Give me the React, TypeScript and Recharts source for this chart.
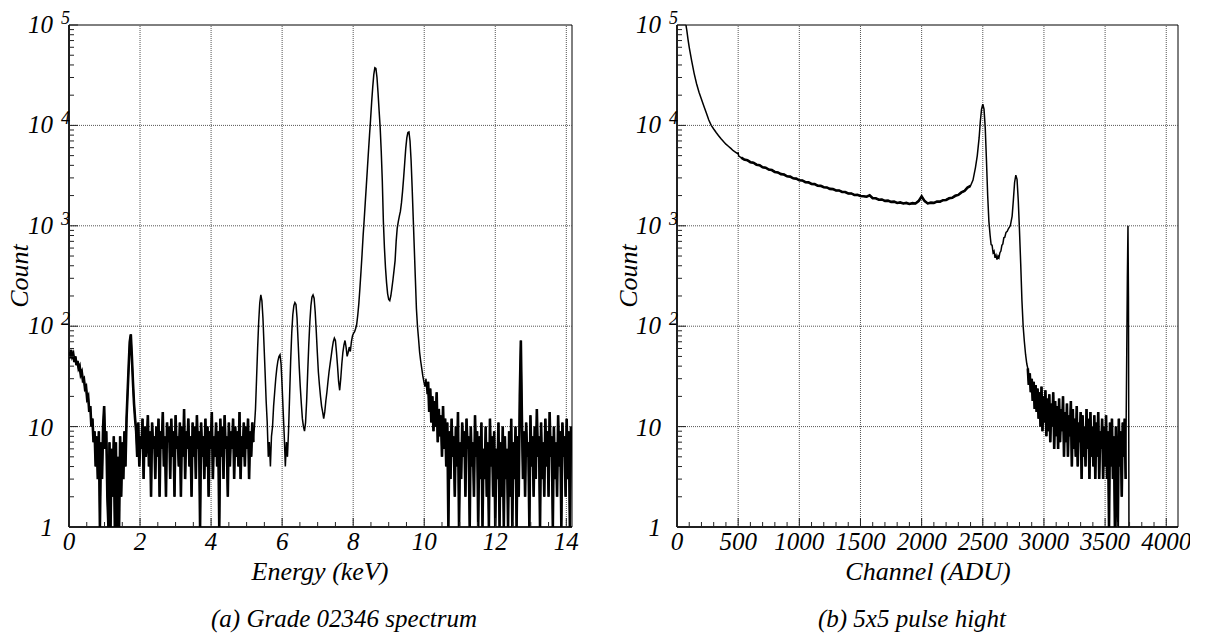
import React from 'react';
import { LineChart, Line, XAxis, YAxis, ReferenceLine, ReferenceArea } from 'recharts';

// ---------- (a) Grade 02346 spectrum : histogram bins of 0.03 keV ----------
const leftBinWidth = 0.03;
const leftTailStart = 0.0;
const leftTailCounts = [
  55, 48, 58, 50, 53, 44, 50, 41, 45, 38,
  40, 33, 35, 29, 30, 24, 25, 19, 20, 14,
  16, 10, 12, 7, 9, 4, 8, 3, 9, 1,
  7, 3, 10, 16, 6, 9, 2, 1, 7, 1,
  6, 2, 8, 1, 7, 1, 5, 1, 8, 2,
  7, 3, 9, 4, 12, 22, 40, 70, 83, 50,
  28, 17, 12,
];
const leftLowStart = 1.89;
const leftLowCounts = [
  9, 5, 11, 4, 8, 6, 12, 3, 10, 5,
  7, 13, 4, 9, 2, 11, 6, 8, 3, 10,
  5, 12, 2, 9, 6, 14, 4, 8, 2, 11,
  7, 10, 3, 12, 5, 9, 2, 13, 6, 8,
  4, 11, 2, 10, 5, 15, 3, 9, 6, 12,
  4, 8, 2, 11, 5, 10, 3, 13, 6, 9,
  1, 11, 5, 8, 3, 12, 4, 10, 2, 9,
  6, 14, 3, 8, 5, 11, 4, 9, 1, 12,
  5, 10, 3, 13, 6, 8, 2, 11, 4, 9,
  6, 12, 3, 10, 5, 9, 4, 14, 3, 8,
  5, 11, 4, 10, 6, 12, 3, 9, 5, 11, 7,
];
const leftLinesStart = 5.22;
const leftLinesCounts = [
  10, 15, 30, 60, 110, 170, 205, 180, 120, 65,
  35, 18, 11, 5, 7, 4, 8, 10, 16, 22,
  30, 38, 45, 50, 52, 42, 25, 14, 8, 4,
  7, 5, 9, 20, 45, 85, 130, 160, 172, 165,
  120, 70, 40, 25, 17, 12, 10, 9, 11, 18,
  35, 65, 110, 160, 195, 205, 190, 140, 90, 55,
  35, 26, 20, 16, 14, 12, 14, 18, 22, 28,
  35, 42, 50, 60, 70, 76, 72, 55, 40, 28,
  23, 30, 42, 55, 65, 72, 62, 50, 55, 62,
  56, 70, 80,
];
const leftCuStart = 8.01;
const leftCuCounts = [
  85, 88, 95, 105, 130, 170, 240, 350, 520, 800,
  1150, 1700, 2500, 3700, 5500, 8000, 11500, 17000, 24000, 32000,
  37500, 37000, 30000, 21000, 14000, 9500, 5500, 2800, 1100, 600,
  380, 270, 210, 185, 180, 200, 240, 290, 360, 450,
  700, 950, 1100, 1250, 1400, 1700, 2200, 3000, 4200, 5900,
  7500, 8500, 8600, 7000, 4500, 2400, 1200, 600, 300, 150,
  100, 75, 55, 45, 38, 32, 28, 25, 30, 21,
];
const leftHighStart = 10.11;
const leftHighCounts = [
  28, 14, 24, 11, 20, 9, 18, 10, 22, 7,
  15, 8, 13, 5, 16, 6, 12, 4, 11, 1,
  9, 3, 12, 5, 8, 2, 10, 4, 14, 1,
  7, 3, 11, 5, 9, 2, 12, 6, 8, 1,
  10, 4, 7, 2, 13, 5, 9, 1, 8, 3,
  11, 1, 6, 3, 10, 2, 7, 1, 12, 4,
  8, 2, 9, 1, 6, 3, 11, 1, 7, 2,
  10, 1, 8, 3, 6, 1, 9, 2, 12, 1,
  7, 3, 10, 1, 8, 2, 20, 72, 12, 3,
  9, 2, 11, 5, 7, 1, 13, 4, 8, 2,
  10, 3, 15, 5, 8, 1, 11, 3, 7, 2,
  12, 4, 9, 2, 14, 5, 8, 1, 10, 3,
  7, 2, 13, 4, 9, 1, 11, 5, 8, 2,
  12, 3, 9, 1, 10,
];
const energyMax = 14.16;
const energyTicks = [0, 0.5, 1, 1.5, 2, 2.5, 3, 3.5, 4, 4.5, 5, 5.5, 6, 6.5, 7, 7.5, 8, 8.5, 9, 9.5, 10, 10.5, 11, 11.5, 12, 12.5, 13, 13.5, 14];
const energyLabels = [0, 2, 4, 6, 8, 10, 12, 14];

// ---------- (b) 5x5 pulse hight ----------
const rightDecayAdu = [50, 60, 70, 80, 90, 100, 120, 140, 160, 180, 200, 220, 240, 260, 280, 300, 320, 340, 360, 380, 400, 420, 440, 460, 480, 495, 500, 505];
const rightDecayCounts = [190000, 140000, 105000, 89000, 72000, 60000, 44000, 33000, 26000, 21400, 18200, 15500, 13300, 11300, 10000, 9200, 8500, 7900, 7350, 6900, 6500, 6200, 5900, 5600, 5400, 5250, 5300, 4950];
const rightPlateauStart = 525;
const rightPlateauStep = 25;
const rightPlateauCounts = [
  4780, 4560, 4500, 4300, 4250, 4060, 4010, 3830, 3790, 3630,
  3590, 3440, 3400, 3270, 3240, 3110, 3090, 2970, 2950, 2840,
  2830, 2720, 2710, 2610, 2600, 2510, 2500, 2420, 2410, 2330,
  2320, 2250, 2250, 2170, 2170, 2100, 2100, 2030, 2040, 1980,
  1970, 1950, 2010, 1880, 1880, 1820, 1830, 1770, 1780, 1730,
  1740, 1690, 1710, 1670, 1690, 1650, 1680, 1670, 1760, 1960,
  1760, 1670, 1700, 1690, 1740, 1740, 1800, 1810, 1880, 1900,
  1990, 2030, 2150, 2220, 2400, 2500,
];
const rightPeakAdu = [2420, 2440, 2455, 2470, 2480, 2490, 2500, 2510, 2520, 2530, 2540, 2550, 2560, 2568, 2576, 2584, 2592, 2600, 2608, 2616, 2624, 2632, 2640, 2648, 2656, 2664, 2672, 2680, 2690, 2700, 2710, 2725, 2740, 2750, 2760, 2770, 2780, 2790, 2800, 2810, 2820, 2830, 2840, 2850, 2860];
const rightPeakCounts = [2850, 3800, 5000, 7500, 11000, 14500, 16300, 14500, 9500, 4500, 2000, 1100, 800, 650, 640, 540, 560, 480, 510, 460, 500, 480, 540, 560, 640, 660, 760, 770, 860, 880, 940, 1000, 1250, 1800, 2700, 3200, 2900, 1800, 900, 420, 180, 100, 70, 52, 42];
const rightNoiseStart = 2868;
const rightNoiseStep = 8;
const rightNoiseCounts = [
  38, 26, 34, 22, 30, 18, 28, 15, 26, 14,
  24, 12, 22, 10, 25, 9, 20, 11, 23, 8,
  19, 9, 21, 7, 17, 10, 22, 6, 18, 8,
  16, 6, 19, 7, 15, 9, 20, 5, 14, 7,
  17, 5, 13, 8, 18, 4, 15, 6, 12, 5,
  16, 4, 11, 7, 14, 3, 13, 5, 10, 4,
  15, 6, 12, 3, 14, 5, 10, 4, 13, 3,
  11, 5, 14, 3, 9, 6, 12, 3, 10, 4,
  13, 3, 9, 1, 11, 4, 12, 3, 8, 1,
  10, 3, 1, 12, 4, 9, 2, 11, 5, 12, 3,
];
const rightSpikeAdu = [3676, 3682, 3687, 3691, 3695];
const rightSpikeCounts = [40, 300, 1000, 200, 1];
const adcMax = 4096;
const adcTicks = [0, 100, 200, 300, 400, 500, 600, 700, 800, 900, 1000, 1100, 1200, 1300, 1400, 1500, 1600, 1700, 1800, 1900, 2000, 2100, 2200, 2300, 2400, 2500, 2600, 2700, 2800, 2900, 3000, 3100, 3200, 3300, 3400, 3500, 3600, 3700, 3800, 3900, 4000];
const adcLabels = [0, 500, 1000, 1500, 2000, 2500, 3000, 3500, 4000];

// ---------- shared count axis ----------
const countDecades = [1, 10, 100, 1000, 10000, 100000];
const countTicks = [
  1, 2, 3, 4, 5, 6, 7, 8, 9,
  10, 20, 30, 40, 50, 60, 70, 80, 90,
  100, 200, 300, 400, 500, 600, 700, 800, 900,
  1000, 2000, 3000, 4000, 5000, 6000, 7000, 8000, 9000,
  10000, 20000, 30000, 40000, 50000, 60000, 70000, 80000, 90000,
  100000,
];

type Pt = { x: number; c: number; n?: number };
// noisy stretches are also copied into "n" so they can be stroked a bit heavier (dense histogram look)
const bins = (start: number, step: number, counts: number[], noisy = false): Pt[] =>
  counts.map((c, i) => {
    const x = Math.round((start + i * step) * 1000) / 1000;
    return noisy ? { x, c, n: c } : { x, c };
  });
const pairs = (xs: number[], cs: number[]): Pt[] => xs.map((x, i) => ({ x, c: cs[i] }));

const leftData: Pt[] = [
  ...bins(leftTailStart, leftBinWidth, leftTailCounts, true),
  ...bins(leftLowStart, leftBinWidth, leftLowCounts, true),
  ...bins(leftLinesStart, leftBinWidth, leftLinesCounts),
  ...bins(leftCuStart, leftBinWidth, leftCuCounts),
  ...bins(leftHighStart, leftBinWidth, leftHighCounts, true),
];

const rightData: Pt[] = [
  ...pairs(rightDecayAdu, rightDecayCounts),
  ...bins(rightPlateauStart, rightPlateauStep, rightPlateauCounts, true),
  ...pairs(rightPeakAdu, rightPeakCounts),
  ...bins(rightNoiseStart, rightNoiseStep, rightNoiseCounts, true),
  ...pairs(rightSpikeAdu, rightSpikeCounts),
];

const FAMILY = 'Liberation Serif';
const font = (size: number) => ({ fontFamily: FAMILY, fontStyle: 'italic' as const, fontSize: size });

function YTick(props: any) {
  const { x, y, payload } = props;
  const v = payload.value as number;
  const lg = Math.log10(v);
  const exp = Math.round(lg);
  const major = Math.abs(lg - exp) < 1e-6;
  return (
    <g>
      <line x1={x} x2={x + (major ? 9 : 5)} y1={y} y2={y} stroke="#222" strokeWidth={1} />
      {major && exp <= 1 && (
        <text x={x - 16} y={y + 9} textAnchor="end" fill="#000" style={font(25)}>
          {String(v)}
        </text>
      )}
      {major && exp > 1 && (
        <g>
          <text x={x - 16} y={y + 8} textAnchor="end" fill="#000" style={font(25)}>10</text>
          <text x={x - 8} y={y - 1} textAnchor="start" fill="#000" style={font(18)}>{String(exp)}</text>
        </g>
      )}
    </g>
  );
}

function makeXTick(labels: number[]) {
  return function XTick(props: any) {
    const { x, y, payload } = props;
    const v = payload.value as number;
    const major = labels.includes(v);
    return (
      <g>
        <line x1={x} x2={x} y1={y} y2={y - (major ? 9 : 5)} stroke="#222" strokeWidth={1} />
        {major && (
          <text x={x} y={y + 23} textAnchor="middle" fill="#000" style={font(25)}>
            {String(v)}
          </text>
        )}
      </g>
    );
  };
}

const gridStyle = { stroke: '#555', strokeDasharray: '1 1', strokeWidth: 1 };

function Panel(props: {
  data: Pt[];
  xMax: number;
  xTicks: number[];
  xLabels: number[];
  width: number;
  yAxisWidth: number;
  rightMargin: number;
}) {
  const { data, xMax, xTicks, xLabels, width, yAxisWidth, rightMargin } = props;
  const XT = makeXTick(xLabels);
  return (
    <LineChart width={width} height={635} data={data} margin={{ top: 25, right: rightMargin, bottom: 0, left: 0 }}>
      <XAxis
        dataKey="x"
        type="number"
        domain={[0, xMax]}
        allowDataOverflow
        ticks={xTicks}
        interval={0}
        tickSize={0}
        tickMargin={0}
        tickLine={false}
        axisLine={{ stroke: '#000', strokeWidth: 1.5 }}
        tick={<XT />}
        height={108}
      />
      <YAxis
        type="number"
        scale="log"
        domain={[1, 100000]}
        allowDataOverflow
        ticks={countTicks}
        interval={0}
        tickSize={0}
        tickMargin={0}
        tickLine={false}
        axisLine={{ stroke: '#000', strokeWidth: 1.5 }}
        tick={<YTick />}
        width={yAxisWidth}
      />
      {countDecades.slice(1, -1).map((d) => (
        <ReferenceLine key={'h' + d} y={d} {...gridStyle} />
      ))}
      {xLabels.filter((v) => v > 0).map((v) => (
        <ReferenceLine key={'v' + v} x={v} {...gridStyle} />
      ))}
      <ReferenceArea x1={0} x2={xMax} y1={1} y2={100000} fill="none" fillOpacity={0} stroke="#000" strokeWidth={1} />
      <Line dataKey="c" type="linear" stroke="#000" strokeWidth={1.5} dot={false} activeDot={false} isAnimationActive={false} />
      <Line dataKey="n" type="linear" stroke="#000" strokeWidth={2.6} dot={false} activeDot={false} connectNulls={false} isAnimationActive={false} />
    </LineChart>
  );
}

export default function App() {
  return (
    <div style={{ position: 'absolute', left: 0, top: 0, width: 1207, height: 635, background: '#fff', overflow: 'hidden' }}>
      <div style={{ position: 'absolute', left: 0, top: 0 }}>
        <Panel data={leftData} xMax={energyMax} xTicks={energyTicks} xLabels={energyLabels} width={603} yAxisWidth={69} rightMargin={31} />
      </div>
      <div style={{ position: 'absolute', left: 604, top: 0 }}>
        <Panel data={rightData} xMax={adcMax} xTicks={adcTicks} xLabels={adcLabels} width={586} yAxisWidth={73} rightMargin={12} />
      </div>
      <svg width={1207} height={635} style={{ position: 'absolute', left: 0, top: 0, pointerEvents: 'none' }}>
        <text x={28} y={276} transform="rotate(-90 28 276)" textAnchor="middle" fill="#000" style={font(26)}>Count</text>
        <text x={637} y={276} transform="rotate(-90 637 276)" textAnchor="middle" fill="#000" style={font(26)}>Count</text>
        <text x={320} y={580} textAnchor="middle" fill="#000" style={font(26)}>Energy (keV)</text>
        <text x={928} y={580} textAnchor="middle" fill="#000" style={font(26)}>Channel (ADU)</text>
        <text x={344} y={627} textAnchor="middle" fill="#000" style={font(25)}>(a) Grade 02346 spectrum</text>
        <text x={912} y={627} textAnchor="middle" fill="#000" style={font(25)}>(b) 5x5 pulse hight</text>
      </svg>
    </div>
  );
}
